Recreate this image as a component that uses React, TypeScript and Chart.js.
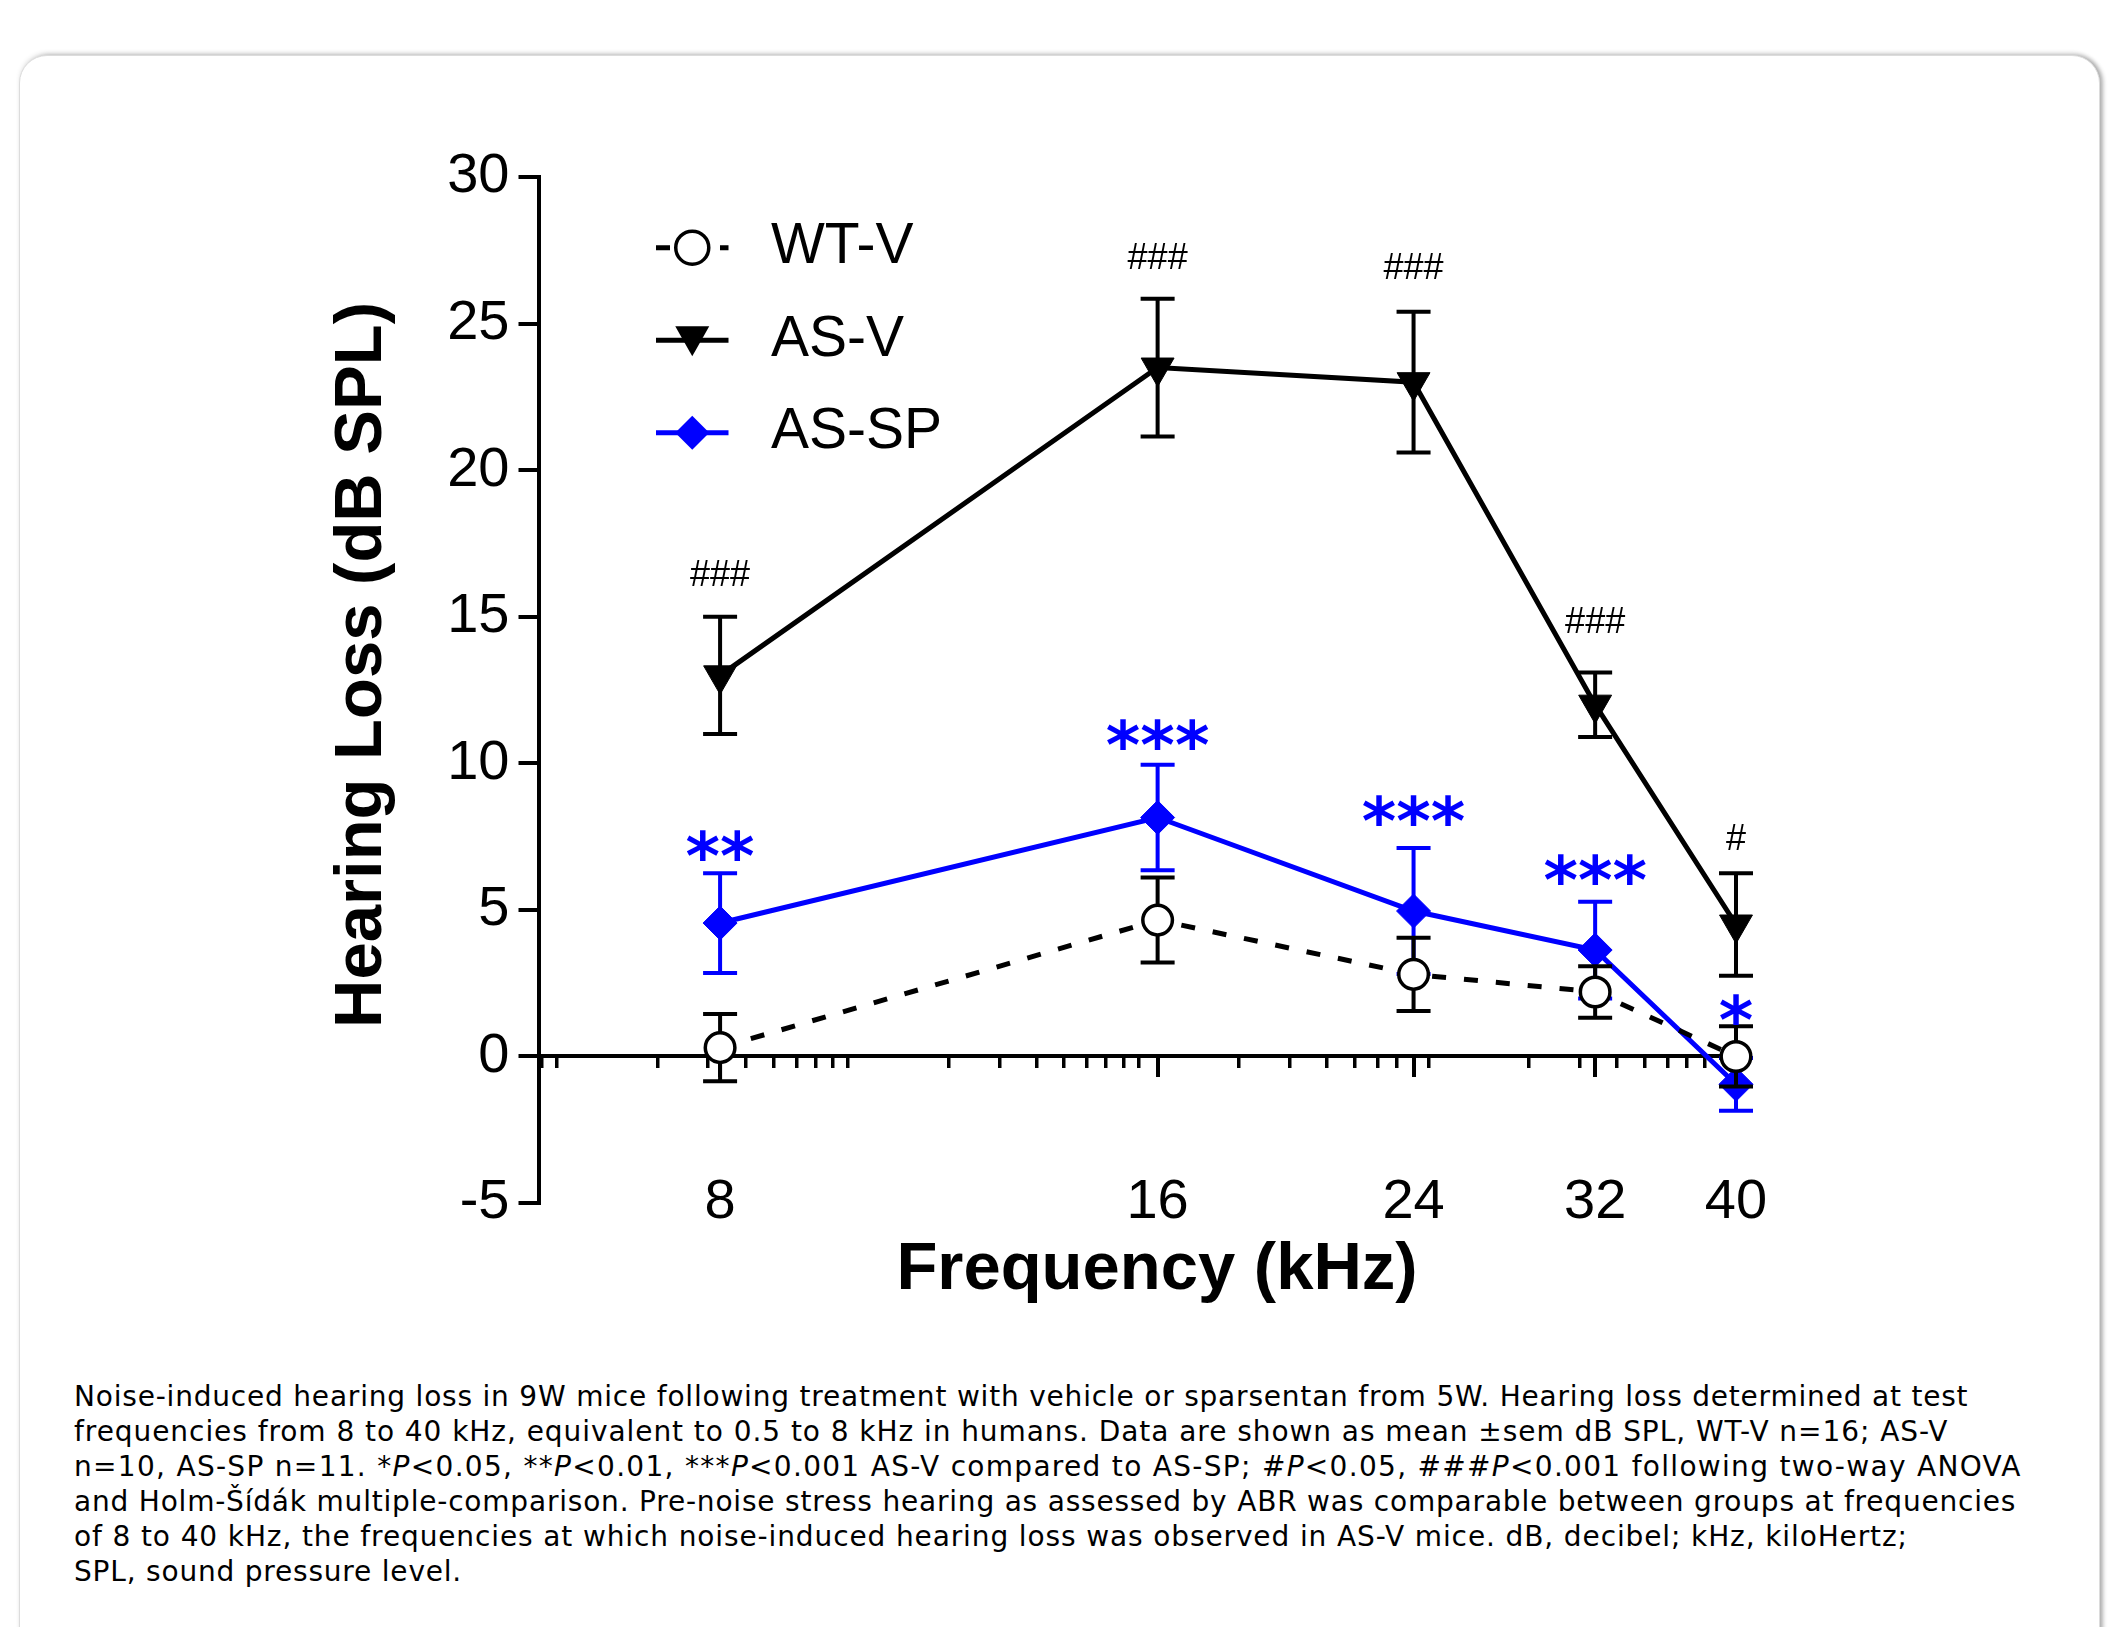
import React, { useEffect, useRef } from 'react';
import { Chart, registerables } from 'chart.js';

Chart.register(...registerables);

// ---------------- data ----------------
const FREQUENCIES = [8, 16, 24, 32, 40];
const X_TICK_LABELS = ['8', '16', '24', '32', '40'];
const X_MINOR_TICKS = [
  6.03, 6.18, 7.25, 7.84, 8.33, 8.71, 9.04, 9.31, 9.56, 9.8,
  11.49, 12.46, 13.21, 13.79, 14.31, 14.74, 15.16, 15.52,
  18.19, 19.73, 20.9, 21.88, 22.66, 23.38, 24.58, 28.8, 31.25,
  33.14, 34.6, 35.9, 37.0, 38.05,
];
const Y_TICKS = [-5, 0, 5, 10, 15, 20, 25, 30];

const WT_V_MEAN = [0.3, 4.65, 2.8, 2.2, 0.0];
const WT_V_SEM = [1.15, 1.45, 1.25, 0.88, 1.03];
const AS_V_MEAN = [13.0, 23.5, 23.0, 12.0, 4.5];
const AS_V_SEM = [2.0, 2.35, 2.4, 1.1, 1.75];
const AS_SP_MEAN = [4.55, 8.15, 4.96, 3.63, -0.95];
const AS_SP_SEM = [1.7, 1.8, 2.15, 1.65, 0.9];

const AS_V_SIG = ['###', '###', '###', '###', '#'];
const AS_V_SIG_LEVEL = [16.5, 27.3, 26.95, 14.9, 7.5];
const AS_SP_SIG = ['**', '***', '***', '***', '*'];
const AS_SP_SIG_LEVEL = [7.2, 10.97, 8.4, 6.38, 1.6];

const SERIES_LABELS = ['WT-V', 'AS-V', 'AS-SP'];
const X_TITLE = 'Frequency (kHz)';
const Y_TITLE = 'Hearing Loss (dB SPL)';

const BLUE = '#0000ff';
const SANS = '"Liberation Sans", Arial, sans-serif';

function drawMarker(ctx: CanvasRenderingContext2D, style: string, x: number, y: number, fill: string, stroke: string) {
  ctx.save();
  ctx.setLineDash([]);
  ctx.beginPath();
  if (style === 'circle') {
    ctx.arc(x, y, 16.5, 0, Math.PI * 2);
    ctx.fillStyle = fill;
    ctx.fill();
    ctx.lineWidth = 3.5;
    ctx.strokeStyle = stroke;
    ctx.stroke();
  } else if (style === 'triangle') {
    ctx.moveTo(x - 17, y - 14);
    ctx.lineTo(x + 17, y - 14);
    ctx.lineTo(x, y + 16);
    ctx.closePath();
    ctx.fillStyle = fill;
    ctx.fill();
  } else {
    ctx.moveTo(x, y - 17);
    ctx.lineTo(x + 17, y);
    ctx.lineTo(x, y + 17);
    ctx.lineTo(x - 17, y);
    ctx.closePath();
    ctx.fillStyle = fill;
    ctx.fill();
  }
  ctx.restore();
}

function drawCentered(ctx: CanvasRenderingContext2D, text: string, x: number, y: number) {
  const m = ctx.measureText(text);
  const base = y + (m.actualBoundingBoxAscent - m.actualBoundingBoxDescent) / 2;
  ctx.fillText(text, x, base);
}

const errorBarPlugin = {
  id: 'errorBars',
  beforeDatasetDraw(chart: any, args: any) {
    const ds = chart.data.datasets[args.index];
    const sem: number[] | undefined = ds.sem;
    if (!sem) return;
    const ys = chart.scales.y;
    const ctx: CanvasRenderingContext2D = chart.ctx;
    ctx.save();
    ctx.setLineDash([]);
    ctx.strokeStyle = ds.borderColor;
    ctx.lineWidth = 4;
    args.meta.data.forEach((pt: any, i: number) => {
      const v = ds.data[i].y;
      const top = ys.getPixelForValue(v + sem[i]);
      const bot = ys.getPixelForValue(v - sem[i]);
      ctx.beginPath();
      ctx.moveTo(pt.x, top);
      ctx.lineTo(pt.x, bot);
      ctx.moveTo(pt.x - 17, top);
      ctx.lineTo(pt.x + 17, top);
      ctx.moveTo(pt.x - 17, bot);
      ctx.lineTo(pt.x + 17, bot);
      ctx.stroke();
    });
    ctx.restore();
  },
};

const annotationPlugin = {
  id: 'annotations',
  afterDatasetsDraw(chart: any) {
    const ctx: CanvasRenderingContext2D = chart.ctx;
    const xs = chart.scales.x;
    const ys = chart.scales.y;
    ctx.save();
    ctx.textAlign = 'center';
    ctx.textBaseline = 'alphabetic';
    ctx.fillStyle = '#000';
    ctx.font = `36px ${SANS}`;
    FREQUENCIES.forEach((f, i) => {
      drawCentered(ctx, AS_V_SIG[i], xs.getPixelForValue(f), ys.getPixelForValue(AS_V_SIG_LEVEL[i]));
    });
    ctx.fillStyle = BLUE;
    ctx.font = `bold 66px "DejaVu Sans", sans-serif`;
    FREQUENCIES.forEach((f, i) => {
      drawCentered(ctx, AS_SP_SIG[i], xs.getPixelForValue(f), ys.getPixelForValue(AS_SP_SIG_LEVEL[i]));
    });
    ctx.restore();
  },
  afterDraw(chart: any) {
    const ctx: CanvasRenderingContext2D = chart.ctx;
    const ca = chart.chartArea;
    ctx.save();
    // legend
    const x0 = ca.left + 117.5;
    const x1 = ca.left + 190;
    const xm = (x0 + x1) / 2;
    const tx = ca.left + 232.5;
    chart.data.datasets.forEach((ds: any, i: number) => {
      const y = ca.top + 70.7 + i * 92.5;
      ctx.save();
      ctx.strokeStyle = ds.borderColor;
      ctx.lineWidth = 5;
      ctx.setLineDash(ds.borderDash || []);
      ctx.beginPath();
      ctx.moveTo(x0, y);
      ctx.lineTo(x1, y);
      ctx.stroke();
      ctx.restore();
      drawMarker(ctx, ds.pointStyle, xm, y, ds.pointBackgroundColor, ds.pointBorderColor);
      ctx.fillStyle = '#000';
      ctx.font = `57px ${SANS}`;
      ctx.textAlign = 'left';
      ctx.textBaseline = 'middle';
      ctx.fillText(ds.label, tx, y);
    });
    // axis titles
    ctx.fillStyle = '#000';
    ctx.font = `bold 67px ${SANS}`;
    ctx.textAlign = 'center';
    ctx.textBaseline = 'alphabetic';
    ctx.fillText(X_TITLE, 1157, 1289);
    ctx.translate(381, 665);
    ctx.rotate(-Math.PI / 2);
    ctx.fillText(Y_TITLE, 0, 0);
    ctx.restore();
  },
};

function ChartView() {
  const ref = useRef<HTMLCanvasElement | null>(null);
  useEffect(() => {
    if (!ref.current) return;
    const mk = (mean: number[]) => FREQUENCIES.map((f, i) => ({ x: f, y: mean[i] }));
    const chart = new Chart(ref.current, {
      type: 'line',
      data: {
        datasets: [
          {
            label: SERIES_LABELS[0],
            data: mk(WT_V_MEAN),
            borderColor: '#000',
            borderWidth: 5,
            borderDash: [14, 18],
            pointStyle: 'circle',
            pointRadius: 14.8,
            pointBorderWidth: 3.5,
            pointBackgroundColor: '#fff',
            pointBorderColor: '#000',
            tension: 0,
            clip: false,
            sem: WT_V_SEM,
          } as any,
          {
            label: SERIES_LABELS[1],
            data: mk(AS_V_MEAN),
            borderColor: '#000',
            borderWidth: 5,
            pointStyle: 'triangle',
            rotation: 180,
            pointRadius: 19,
            pointBorderWidth: 1,
            pointBackgroundColor: '#000',
            pointBorderColor: '#000',
            tension: 0,
            clip: false,
            sem: AS_V_SEM,
          } as any,
          {
            label: SERIES_LABELS[2],
            data: mk(AS_SP_MEAN),
            borderColor: BLUE,
            borderWidth: 5,
            pointStyle: 'rectRot',
            pointRadius: 17,
            pointBorderWidth: 1,
            pointBackgroundColor: BLUE,
            pointBorderColor: BLUE,
            tension: 0,
            clip: false,
            sem: AS_SP_SEM,
          } as any,
        ],
      },
      options: {
        animation: false,
        responsive: false,
        devicePixelRatio: 1,
        events: [],
        layout: { padding: { left: 0, top: 177, right: 375, bottom: 127 } },
        plugins: { legend: { display: false }, tooltip: { enabled: false }, title: { display: false } },
        scales: {
          x: {
            type: 'logarithmic',
            position: { y: -5 },
            min: 6,
            max: 40,
            bounds: 'data',
            afterBuildTicks: (s: any) => {
              s.ticks = FREQUENCIES.map((v) => ({ value: v }));
            },
            grid: { display: false, drawTicks: false },
            border: { display: false },
            ticks: {
              autoSkip: false,
              maxRotation: 0,
              minRotation: 0,
              padding: -34,
              color: '#000',
              font: { family: SANS, size: 56 },
              callback: (_v: any, i: number) => X_TICK_LABELS[i],
            },
          } as any,
          xMaj: {
            axis: 'x',
            type: 'logarithmic',
            position: { y: 0 },
            min: 6,
            max: 40,
            bounds: 'data',
            afterBuildTicks: (s: any) => {
              s.ticks = FREQUENCIES.map((v) => ({ value: v }));
            },
            grid: { display: true, drawOnChartArea: false, drawTicks: true, tickLength: 19, lineWidth: 4, color: '#000' },
            border: { display: true, width: 4, color: '#000' },
            ticks: { display: false },
          } as any,
          xMin: {
            axis: 'x',
            type: 'logarithmic',
            position: { y: 0 },
            min: 6,
            max: 40,
            bounds: 'data',
            afterBuildTicks: (s: any) => {
              s.ticks = X_MINOR_TICKS.map((v) => ({ value: v }));
            },
            grid: { display: true, drawOnChartArea: false, drawTicks: true, tickLength: 12, lineWidth: 3.5, color: '#000' },
            border: { display: false },
            ticks: { display: false },
          } as any,
          y: {
            type: 'linear',
            min: -5,
            max: 30,
            afterBuildTicks: (s: any) => {
              s.ticks = Y_TICKS.map((v) => ({ value: v }));
            },
            afterFit: (s: any) => {
              s.width = 538.5;
            },
            grid: { display: true, drawOnChartArea: false, drawTicks: true, tickLength: 20, lineWidth: 4, color: '#000' },
            border: { display: true, width: 4, color: '#000' },
            ticks: {
              padding: 9,
              color: '#000',
              font: { family: SANS, size: 56 },
              callback: (v: any) => String(v),
            },
          } as any,
        },
      } as any,
      plugins: [errorBarPlugin, annotationPlugin],
    });
    return () => chart.destroy();
  }, []);
  return <canvas ref={ref} width={2111} height={1330} style={{ position: 'absolute', left: 0, top: 0, width: 2111, height: 1330 }} />;
}

const CAPTION_STYLE: React.CSSProperties = {
  position: 'absolute',
  left: 74,
  top: 1379,
  fontFamily: '"DejaVu Sans", Verdana, sans-serif',
  fontSize: 28,
  letterSpacing: '0.8px',
  lineHeight: '35px',
  color: '#000',
  whiteSpace: 'nowrap',
};

export default function App() {
  return (
    <div style={{ position: 'fixed', left: 0, top: 0, width: 2111, height: 1627, overflow: 'hidden', background: '#fff' }}>
      <div
        style={{
          position: 'absolute',
          left: 19,
          top: 55,
          width: 2079,
          height: 1620,
          borderRadius: 28,
          background: '#fff',
          border: '1px solid #dcdcdc',
          boxShadow: '3px 0 4px rgba(0,0,0,0.3), 0 -3px 4px rgba(0,0,0,0.07)',
        }}
      />
      <ChartView />
      <div style={CAPTION_STYLE}>
        <div>Noise-induced hearing loss in 9W mice following treatment with vehicle or sparsentan from 5W. Hearing loss determined at test</div>
        <div style={{ letterSpacing: '0.94px' }}>frequencies from 8 to 40 kHz, equivalent to 0.5 to 8 kHz in humans. Data are shown as mean ±sem dB SPL, WT-V n=16; AS-V</div>
        <div style={{ letterSpacing: '1.3px' }}>
          n=10, AS-SP n=11. *<i>P</i>&lt;0.05, **<i>P</i>&lt;0.01, ***<i>P</i>&lt;0.001 AS-V compared to AS-SP; #<i>P</i>&lt;0.05, ###<i>P</i>&lt;0.001 following two-way ANOVA
        </div>
        <div>and Holm-Šídák multiple-comparison. Pre-noise stress hearing as assessed by ABR was comparable between groups at frequencies</div>
        <div style={{ letterSpacing: '0.88px' }}>of 8 to 40 kHz, the frequencies at which noise-induced hearing loss was observed in AS-V mice. dB, decibel; kHz, kiloHertz;</div>
        <div>SPL, sound pressure level.</div>
      </div>
    </div>
  );
}
